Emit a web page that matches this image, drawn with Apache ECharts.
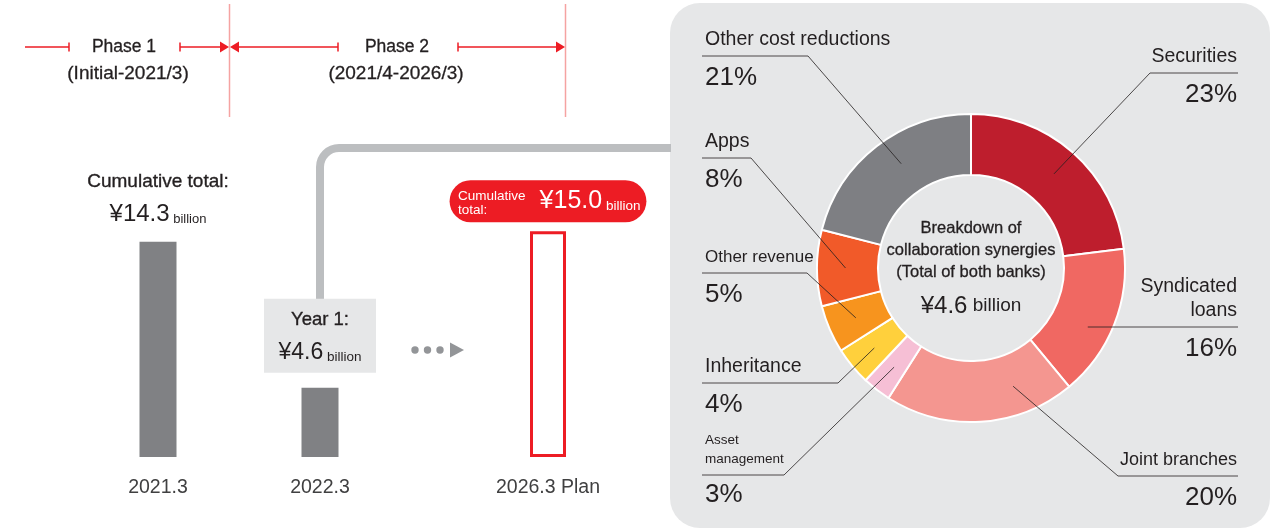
<!DOCTYPE html>
<html>
<head>
<meta charset="utf-8">
<script src="https://cdn.jsdelivr.net/npm/echarts@6/dist/echarts.min.js"></script>
<style>
  html, body { margin: 0; padding: 0; background: #fff; }
  #chart { width: 1271px; height: 531px; }
</style>
</head>
<body>
<div id="chart"></div>
<script>
// Cumulative synergy results by fiscal year end (¥ billion)
const actualCategories = ['2021.3', '2022.3'];
const actualValues = [14.3, 4.6];
const actualHeadings = ['Cumulative total:', 'Year 1:'];
const planCategories = ['2026.3 Plan'];
const planValues = [15.0];
const planHeading = 'Cumulative\ntotal:';

// Timeline phases
const phaseNames = ['Phase 1', 'Phase 2'];
const phaseSpans = ['(Initial-2021/3)', '(2021/4-2026/3)'];

// Breakdown of collaboration synergies (% share), clockwise from 12 o'clock
const segmentNames = ['Securities', 'Syndicated\nloans', 'Joint branches', 'Asset\nmanagement',
  'Inheritance', 'Other revenue', 'Apps', 'Other cost reductions'];
const segmentShares = [23, 16, 20, 3, 4, 5, 8, 21];
const centerTitle = ['Breakdown of', 'collaboration synergies', '(Total of both banks)'];
const centerTotal = 4.6;

// Palette
const segmentColors = ['#BE1E2D', '#F06862', '#F49690', '#F6BFD5', '#FFD03C', '#F7941E', '#F15A29', '#7E7F83'];
const INK = '#231F20';
const RED = '#ED1C24';
const BAR_GRAY = '#808184';
const PANEL = '#E6E7E8';
const SANS = '"Liberation Sans", Arial, Helvetica, sans-serif';

// Donut geometry
const CX = 971, CY = 268, R_IN = 93, R_OUT = 154;

// Callout placement: side, underline y, elbow x, text style, optional turn of the anchor (degrees)
const labelSpots = [
  { side: 'right', lineY: 73, elbowX: 1150, font: 'n' },
  { side: 'right', lineY: 327, elbowX: null, font: 'n' },
  { side: 'right', lineY: 476, elbowX: 1118, font: 'm', turn: -16 },
  { side: 'left', lineY: 475, elbowX: 784, font: 'a' },
  { side: 'left', lineY: 383, elbowX: 838, font: 'n' },
  { side: 'left', lineY: 273, elbowX: 807, font: 'c' },
  { side: 'left', lineY: 158, elbowX: 751, font: 'n' },
  { side: 'left', lineY: 56, elbowX: 808, font: 'n', turn: 4 }
];
const LEFT_X = 705, RIGHT_X = 1237;

// Mid angle of every slice (radians, clockwise from 12 o'clock)
const shareTotal = segmentShares.reduce((a, b) => a + b, 0);
const midAngles = [];
segmentShares.reduce((acc, v) => {
  midAngles.push((acc + v / 2) / shareTotal * Math.PI * 2);
  return acc + v;
}, 0);

// Leader line for each slice: anchor inside the ring -> elbow -> along the underline
function leaderPoints(i) {
  const s = labelSpots[i];
  const left = s.side === 'left';
  const edge = left ? LEFT_X - 3 : RIGHT_X + 1;
  const r = (R_IN + R_OUT) / 2 + 2;
  if (s.elbowX == null) {
    const dy = s.lineY - CY;
    const start = [CX + Math.sqrt(r * r - dy * dy) + 6, s.lineY];
    return [start, [edge, s.lineY]];
  }
  const a = midAngles[i] + (s.turn || 0) * Math.PI / 180;
  return [[CX + r * Math.sin(a), CY - r * Math.cos(a)], [s.elbowX, s.lineY], [edge, s.lineY]];
}

const yen = v => '¥' + Number(v).toFixed(1);

// slightly heavier strokes for headings
const medium = { textBorderColor: INK, textBorderWidth: 0.35 };

const amountRich = (size, unitSize, color) => ({
  v: { fontSize: size, lineHeight: 34, color: color, fontFamily: SANS },
  u: { fontSize: unitSize, color: color, fontFamily: SANS, verticalAlign: 'bottom', height: 24 }
});

const chart = echarts.init(document.getElementById('chart'), null, { renderer: 'canvas' });

const actualData = actualValues.map((v, i) => {
  if (i === 0) {
    return {
      value: v,
      label: {
        show: true, position: 'top', distance: 10,
        formatter: p => `{t|${actualHeadings[p.dataIndex]}}\n{v|${yen(p.value)}}{u| billion}`,
        rich: Object.assign({
          t: Object.assign({ fontSize: 19, lineHeight: 32, color: INK, fontFamily: SANS }, medium)
        }, amountRich(24, 13, INK))
      }
    };
  }
  return {
    value: v,
    label: {
      show: true, position: 'top', distance: 15,
      backgroundColor: PANEL, padding: [5, 16, 3, 16], width: 80, align: 'center',
      formatter: p => `{t|${actualHeadings[p.dataIndex]}}\n{v|${yen(p.value)}}{u| billion}`,
      rich: Object.assign({
        t: Object.assign({ fontSize: 18.5, lineHeight: 32, color: INK, fontFamily: SANS }, medium)
      }, amountRich(23, 13.5, INK))
    }
  };
});

const planData = planValues.map(v => ({
  value: v,
  label: {
    show: true, position: 'top', distance: 9,
    backgroundColor: RED, borderRadius: 21, padding: [4, 6, 4, 10],
    formatter: p => `{k|}{v|${yen(p.value)}}{u| billion}`,
    rich: Object.assign({ k: { width: 80, height: 34 } }, amountRich(25, 13.5, '#fff'))
  }
}));

const pieData = segmentNames.map((n, i) => ({
  name: n, value: segmentShares[i], itemStyle: { color: segmentColors[i] }
}));

const phaseColor = '#ED1C24';
const guide = '#F5A3A2';
function hLine(x1, x2, y) {
  return { type: 'line', shape: { x1, y1: y, x2, y2: y }, style: { stroke: phaseColor, lineWidth: 1.5 }, silent: true };
}
function tick(x, y) {
  return { type: 'line', shape: { x1: x, y1: y - 4.5, x2: x, y2: y + 4.5 }, style: { stroke: phaseColor, lineWidth: 1.5 }, silent: true };
}
function arrow(tipX, y, dir) {
  const b = tipX - dir * 9;
  return { type: 'polygon', shape: { points: [[b, y - 5.5], [tipX, y], [b, y + 5.5]] }, style: { fill: phaseColor }, silent: true };
}
function label(text, x, y, size, heavy) {
  return {
    type: 'text', x, y, silent: true,
    style: Object.assign({ text, fill: INK, fontSize: size, fontFamily: SANS, align: 'center', verticalAlign: 'middle' },
      heavy ? { stroke: INK, lineWidth: 0.3 } : {})
  };
}

const PY = 47;
const connector = { stroke: '#BCBEC0', lineWidth: 8, fill: null };
const graphics = [
  // panel behind the donut
  { type: 'rect', z: 0, shape: { x: 670, y: 3, width: 600, height: 525, r: 30 }, style: { fill: PANEL }, silent: true },
  // connector from the Year 1 box to the breakdown panel
  { type: 'line', z: 0, shape: { x1: 320, y1: 300, x2: 320, y2: 167 }, style: connector, silent: true },
  { type: 'arc', z: 0, shape: { cx: 339, cy: 167, r: 19, startAngle: Math.PI, endAngle: Math.PI * 1.5, clockwise: true },
    style: connector, silent: true },
  { type: 'line', z: 0, shape: { x1: 339, y1: 148, x2: 671, y2: 148 }, style: connector, silent: true },
  // phase guides
  { type: 'line', shape: { x1: 229.5, y1: 4, x2: 229.5, y2: 117 }, style: { stroke: guide, lineWidth: 1.5 }, silent: true },
  { type: 'line', shape: { x1: 565.5, y1: 4, x2: 565.5, y2: 117 }, style: { stroke: guide, lineWidth: 1.5 }, silent: true },
  hLine(25, 69, PY), tick(69, PY),
  tick(180, PY), hLine(180, 222, PY), arrow(229, PY, 1),
  arrow(230, PY, -1), hLine(237, 338, PY), tick(338, PY),
  tick(458, PY), hLine(458, 558, PY), arrow(565, PY, 1),
  label(phaseNames[0], 124, PY, 17.5, true),
  label(phaseSpans[0], 128, 74, 19, true),
  label(phaseNames[1], 397, PY, 17.5, true),
  label(phaseSpans[1], 396, 74, 19, true),
  // progression marker
  { type: 'circle', shape: { cx: 415, cy: 350, r: 3.7 }, style: { fill: '#939598' }, silent: true },
  { type: 'circle', shape: { cx: 427.5, cy: 350, r: 3.7 }, style: { fill: '#939598' }, silent: true },
  { type: 'circle', shape: { cx: 440, cy: 350, r: 3.7 }, style: { fill: '#939598' }, silent: true },
  { type: 'polygon', shape: { points: [[450, 342.5], [450, 357.5], [464, 350]] }, style: { fill: '#939598' }, silent: true },
  // heading inside the plan badge
  { type: 'text', z: 100, x: 458, y: 203, silent: true,
    style: { text: planHeading, fill: '#fff', fontSize: 13.5, lineHeight: 14, fontFamily: SANS, align: 'left', verticalAlign: 'middle' } },
  // donut centre
  { type: 'text', z: 100, x: CX, y: 250, silent: true,
    style: { text: centerTitle.join('\n'), fill: INK, fontSize: 16.5, lineHeight: 22, fontFamily: SANS,
      align: 'center', verticalAlign: 'middle', stroke: INK, lineWidth: 0.3 } },
  { type: 'text', z: 100, x: CX, y: 306, silent: true,
    style: {
      text: `{v|${yen(centerTotal)}}{u| billion}`, align: 'center', verticalAlign: 'middle',
      rich: {
        v: { fontSize: 24, lineHeight: 30, fill: INK, fontFamily: SANS },
        u: { fontSize: 19, lineHeight: 30, fill: INK, fontFamily: SANS }
      }
    } }
].concat(segmentNames.map((_, i) => ({
  // callout leader lines drawn over the ring
  type: 'polyline', z: 50, silent: true,
  shape: { points: leaderPoints(i) },
  style: { stroke: INK, lineWidth: 0.8, fill: null }
})));

const richLines = { n: 24, m: 24, c: 24, a: 19 };
const richGap = { n: 4, m: 4, c: 4, a: 6 };

const option = {
  animation: false,
  backgroundColor: '#fff',
  textStyle: { fontFamily: SANS },
  grid: [
    { left: 77, width: 324, top: 156, bottom: 74 },
    { left: 467, width: 162, top: 156, bottom: 74 }
  ],
  xAxis: [
    { type: 'category', gridIndex: 0, data: actualCategories,
      axisLine: { show: false }, axisTick: { show: false },
      axisLabel: { margin: 21, fontSize: 19.5, color: '#404041', fontFamily: SANS } },
    { type: 'category', gridIndex: 1, data: planCategories,
      axisLine: { show: false }, axisTick: { show: false },
      axisLabel: { margin: 21, fontSize: 19.5, color: '#404041', fontFamily: SANS } }
  ],
  yAxis: [
    { type: 'value', gridIndex: 0, min: 0, max: 20, show: false },
    { type: 'value', gridIndex: 1, min: 0, max: 20, show: false }
  ],
  series: [
    { type: 'bar', xAxisIndex: 0, yAxisIndex: 0, barWidth: 37, silent: true,
      itemStyle: { color: BAR_GRAY }, data: actualData },
    { type: 'bar', xAxisIndex: 1, yAxisIndex: 1, barWidth: 36, silent: true,
      itemStyle: { color: '#fff', borderColor: RED, borderWidth: 3 }, data: planData },
    {
      type: 'pie', center: [CX, CY], radius: [R_IN, R_OUT], startAngle: 90, clockwise: true,
      avoidLabelOverlap: false, silent: true, emphasis: { disabled: true },
      itemStyle: { borderColor: '#fff', borderWidth: 2 },
      label: {
        show: true, position: 'outside',
        formatter: p => {
          const st = labelSpots[p.dataIndex].font;
          return p.name.split('\n').map(l => `{${st}|${l}}`).join('\n') + `\n{p|${p.value}%}`;
        },
        rich: {
          n: { fontSize: 19.5, lineHeight: 24, color: INK, fontFamily: SANS },
          m: { fontSize: 18, lineHeight: 24, color: INK, fontFamily: SANS },
          c: { fontSize: 17, lineHeight: 24, color: INK, fontFamily: SANS },
          a: { fontSize: 13.5, lineHeight: 19, color: INK, fontFamily: SANS },
          p: { fontSize: 26, lineHeight: 52, color: INK, fontFamily: SANS }
        }
      },
      labelLine: { show: false },
      labelLayout: params => {
        const i = params.dataIndex;
        const s = labelSpots[i];
        const lines = segmentNames[i].split('\n').length;
        const left = s.side === 'left';
        return {
          x: left ? LEFT_X : RIGHT_X,
          y: s.lineY - lines * richLines[s.font] - richGap[s.font],
          align: left ? 'left' : 'right',
          verticalAlign: 'top'
        };
      },
      data: pieData
    }
  ],
  graphic: graphics
};

chart.setOption(option);
</script>
</body>
</html>
